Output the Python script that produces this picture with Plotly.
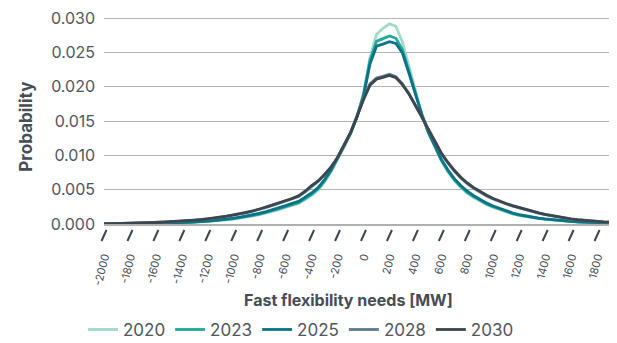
import plotly.graph_objects as go

x_mw = [-2000, -1950, -1900, -1850, -1800, -1750, -1700, -1650, -1600, -1550,
        -1500, -1450, -1400, -1350, -1300, -1250, -1200, -1150, -1100, -1050,
        -1000, -950, -900, -850, -800, -750, -700, -650, -600, -550,
        -500, -450, -400, -350, -300, -250, -200, -150, -100, -50,
        0, 50, 100, 150, 200, 250, 300, 350, 400, 450,
        500, 550, 600, 650, 700, 750, 800, 850, 900, 950,
        1000, 1050, 1100, 1150, 1200, 1250, 1300, 1350, 1400, 1450,
        1500, 1550, 1600, 1650, 1700, 1750, 1800, 1850, 1900, 1950, 2000]

p2020 = [0.00000, 0.00001, 0.00001, 0.00002, 0.00003, 0.00003, 0.00004, 0.00006, 0.00007, 0.00009,
         0.00011, 0.00013, 0.00016, 0.00020, 0.00024, 0.00030, 0.00036, 0.00043, 0.00051, 0.00061,
         0.00073, 0.00086, 0.00101, 0.00118, 0.00136, 0.00158, 0.00182, 0.00210, 0.00240, 0.00270,
         0.00300, 0.00355, 0.00418, 0.00495, 0.00612, 0.00765, 0.00940, 0.01115, 0.01320, 0.01575,
         0.01900, 0.02420, 0.02760, 0.02850, 0.02915, 0.02880, 0.02650, 0.02290, 0.01920, 0.01600,
         0.01335, 0.01120, 0.00920, 0.00762, 0.00632, 0.00532, 0.00450, 0.00386, 0.00330, 0.00282,
         0.00243, 0.00210, 0.00175, 0.00146, 0.00124, 0.00106, 0.00091, 0.00078, 0.00066, 0.00056,
         0.00048, 0.00040, 0.00034, 0.00028, 0.00024, 0.00020, 0.00016, 0.00013, 0.00011, 0.00009, 0.00007]

p2023 = [0.00000, 0.00001, 0.00002, 0.00002, 0.00003, 0.00004, 0.00005, 0.00007, 0.00008, 0.00010,
         0.00012, 0.00015, 0.00018, 0.00022, 0.00027, 0.00033, 0.00039, 0.00046, 0.00055, 0.00066,
         0.00079, 0.00092, 0.00108, 0.00126, 0.00145, 0.00168, 0.00193, 0.00222, 0.00252, 0.00283,
         0.00310, 0.00372, 0.00432, 0.00510, 0.00628, 0.00775, 0.00948, 0.01120, 0.01315, 0.01560,
         0.01880, 0.02380, 0.02660, 0.02700, 0.02740, 0.02705, 0.02540, 0.02230, 0.01890, 0.01590,
         0.01335, 0.01125, 0.00930, 0.00775, 0.00645, 0.00545, 0.00462, 0.00398, 0.00340, 0.00292,
         0.00252, 0.00218, 0.00182, 0.00152, 0.00130, 0.00111, 0.00096, 0.00082, 0.00070, 0.00060,
         0.00051, 0.00043, 0.00036, 0.00030, 0.00026, 0.00021, 0.00018, 0.00015, 0.00012, 0.00010, 0.00008]

p2025 = [0.00001, 0.00001, 0.00002, 0.00003, 0.00004, 0.00005, 0.00006, 0.00008, 0.00009, 0.00011,
         0.00014, 0.00017, 0.00020, 0.00025, 0.00030, 0.00036, 0.00043, 0.00051, 0.00060, 0.00072,
         0.00086, 0.00100, 0.00117, 0.00136, 0.00157, 0.00181, 0.00207, 0.00237, 0.00268, 0.00300,
         0.00330, 0.00392, 0.00452, 0.00530, 0.00648, 0.00790, 0.00960, 0.01130, 0.01320, 0.01560,
         0.01860, 0.02330, 0.02590, 0.02620, 0.02655, 0.02630, 0.02490, 0.02200, 0.01880, 0.01590,
         0.01340, 0.01135, 0.00945, 0.00790, 0.00660, 0.00560, 0.00478, 0.00412, 0.00353, 0.00304,
         0.00263, 0.00228, 0.00191, 0.00160, 0.00137, 0.00117, 0.00101, 0.00087, 0.00074, 0.00063,
         0.00054, 0.00046, 0.00039, 0.00032, 0.00027, 0.00023, 0.00019, 0.00016, 0.00013, 0.00011, 0.00009]

p2028 = [0.00002, 0.00004, 0.00005, 0.00007, 0.00009, 0.00011, 0.00014, 0.00017, 0.00021, 0.00025,
         0.00029, 0.00034, 0.00040, 0.00047, 0.00054, 0.00063, 0.00074, 0.00086, 0.00099, 0.00113,
         0.00129, 0.00147, 0.00166, 0.00188, 0.00213, 0.00242, 0.00272, 0.00302, 0.00334, 0.00366,
         0.00402, 0.00468, 0.00548, 0.00620, 0.00716, 0.00826, 0.00965, 0.01142, 0.01332, 0.01572,
         0.01825, 0.02040, 0.02125, 0.02150, 0.02180, 0.02145, 0.02040, 0.01900, 0.01735, 0.01555,
         0.01372, 0.01195, 0.01025, 0.00890, 0.00772, 0.00672, 0.00588, 0.00520, 0.00460, 0.00408,
         0.00363, 0.00324, 0.00291, 0.00261, 0.00233, 0.00206, 0.00180, 0.00157, 0.00137, 0.00118,
         0.00101, 0.00085, 0.00071, 0.00060, 0.00050, 0.00042, 0.00035, 0.00029, 0.00025, 0.00021, 0.00018]

p2030 = [0.00003, 0.00004, 0.00006, 0.00008, 0.00010, 0.00012, 0.00015, 0.00018, 0.00022, 0.00026,
         0.00030, 0.00035, 0.00041, 0.00048, 0.00056, 0.00065, 0.00076, 0.00088, 0.00101, 0.00116,
         0.00132, 0.00150, 0.00170, 0.00192, 0.00218, 0.00248, 0.00278, 0.00308, 0.00340, 0.00372,
         0.00410, 0.00478, 0.00560, 0.00628, 0.00722, 0.00830, 0.00968, 0.01145, 0.01330, 0.01565,
         0.01810, 0.02020, 0.02110, 0.02135, 0.02165, 0.02130, 0.02030, 0.01895, 0.01735, 0.01560,
         0.01380, 0.01205, 0.01035, 0.00900, 0.00782, 0.00682, 0.00598, 0.00530, 0.00470, 0.00418,
         0.00372, 0.00332, 0.00298, 0.00268, 0.00240, 0.00212, 0.00185, 0.00162, 0.00141, 0.00122,
         0.00104, 0.00088, 0.00074, 0.00062, 0.00052, 0.00043, 0.00036, 0.00030, 0.00026, 0.00022, 0.00019]

series_names = ["2020", "2023", "2025", "2028", "2030"]
series_values = [p2020, p2023, p2025, p2028, p2030]
series_colors = ["#a3d9c8", "#1fa99a", "#0a7387", "#5e7b8c", "#3c464e"]

tick_vals = [-2000, -1800, -1600, -1400, -1200, -1000, -800, -600, -400, -200,
             0, 200, 400, 600, 800, 1000, 1200, 1400, 1600, 1800, 2000]

X_RANGE = [-2000, 1954]
Y_RANGE = [0, 0.0303]

fig = go.Figure()
for name, vals, col in zip(series_names, series_values, series_colors):
    fig.add_trace(go.Scatter(x=x_mw, y=vals, mode="lines", name=name,
                             line=dict(color=col, width=2.8)))

font_family = "Inter, Open Sans, sans-serif"
text_col = "#4f565c"
fig.update_layout(
    width=609, height=335, autosize=False,
    margin=dict(l=96, r=0, t=8, b=119, pad=0),
    paper_bgcolor="white", plot_bgcolor="white",
    font=dict(family=font_family, color=text_col),
    showlegend=True,
    legend=dict(orientation="h", xref="container", yref="container",
                x=0.481, xanchor="center", y=0.039, yanchor="middle",
                font=dict(size=17, color=text_col),
                itemwidth=30, tracegroupgap=0),
    xaxis=dict(range=X_RANGE, tickmode="array", tickvals=tick_vals,
               ticktext=[str(v) for v in tick_vals], tickangle=-76,
               tickfont=dict(size=11, color="#454d55"),
               ticks="outside", ticklen=20, tickcolor="rgba(0,0,0,0)",
               showgrid=False, zeroline=False, automargin=False,
               showline=True, linecolor="#b0b0b0", linewidth=2),
    yaxis=dict(range=Y_RANGE, tick0=0, dtick=0.005, tickformat=".3f",
               tickfont=dict(size=16, color=text_col), automargin=False,
               ticklabeloverflow="allow",
               showgrid=True, gridcolor="#b4b4b4", gridwidth=1,
               zeroline=False, showline=False, ticks="", ticklabelstandoff=8),
)

# slanted tick marks placed through the x scale (paper fraction of each tick value)
plot_w_px = 609 - 96
plot_h_px = 335 - 8 - 119
half_dx = 2.5 / plot_w_px
for v in tick_vals:
    xf = (v - X_RANGE[0]) / (X_RANGE[1] - X_RANGE[0])
    if xf > 1:
        continue
    fig.add_shape(type="line", xref="paper", yref="paper",
                  x0=xf - half_dx, y0=-17 / plot_h_px, x1=xf + half_dx, y1=-6 / plot_h_px,
                  line=dict(color="#3c464e", width=2))

fig.add_annotation(text="<b>Fast flexibility needs [MW]</b>", xref="paper", yref="paper",
                   x=0.476, y=-76 / plot_h_px, showarrow=False,
                   font=dict(size=16, color="#454d55"), xanchor="center", yanchor="middle")
fig.add_annotation(text="<b>Probability</b>", xref="paper", yref="paper",
                   x=-0.152, y=0.468, showarrow=False, textangle=-90,
                   font=dict(size=17, color="#454d55"), xanchor="center", yanchor="middle")

fig.write_html("out.html")
